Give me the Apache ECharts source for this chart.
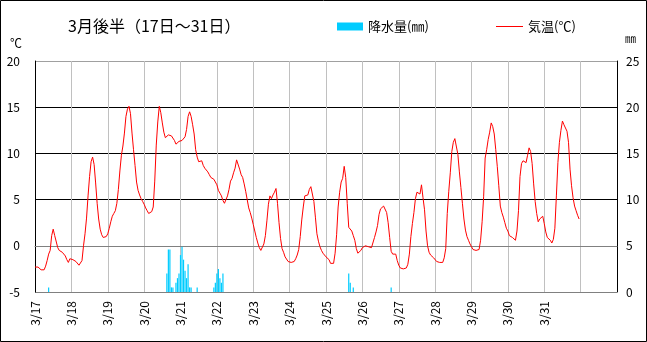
<!DOCTYPE html>
<html><head><meta charset="utf-8">
<script src="https://cdn.jsdelivr.net/npm/echarts@6/dist/echarts.min.js"></script>
<style>html,body{margin:0;padding:0;background:#fff}#c{width:647px;height:342px}</style>
</head><body><div id="c"></div>
<script>
// Tick labels (one per day, start of day)
const dayLabels = ['3/17','3/18','3/19','3/20','3/21','3/22','3/23','3/24','3/25','3/26','3/27','3/28','3/29','3/30','3/31'];
// Hourly temperature (℃), 3/17 01h .. 3/31 24h
const temperature = [
 -2.3,-2.3,-2.3,-2.4,-2.6,-2.7,-2.6,-2.2,-1.6,-0.9,-0.5,1.1,1.8,1.1,1.3,-0.2,-0.5,-0.6,-0.7,-0.8,-1.1,-1.5,-1.8,-1.4,
 -1.4,-1.5,-1.6,-1.7,-1.9,-2.1,-2.1,-1.6,0.0,1.3,3.0,5.4,7.5,9.1,9.6,8.8,6.8,4.6,2.9,1.8,1.2,0.9,0.8,1.0,
 1.3,1.9,2.6,3.2,3.5,3.8,4.6,6.1,8.1,9.8,10.8,12.2,14.0,14.8,15.1,14.3,12.2,10.4,8.7,6.9,6.0,5.5,5.1,4.8,
 4.5,4.1,3.8,3.5,3.4,3.7,4.2,7.0,10.9,13.4,15.1,14.4,13.3,12.3,11.7,11.6,12.0,12.1,11.9,11.7,11.4,11.0,11.1,11.3,
 11.4,11.4,11.6,11.8,12.6,14.0,14.5,14.0,13.1,12.1,10.4,9.6,9.1,8.9,9.2,8.7,8.4,8.3,8.0,7.7,7.4,7.3,7.2,7.1,
 6.6,6.0,5.7,5.4,4.9,4.6,4.8,5.4,6.1,7.0,7.3,7.9,8.4,9.3,9.2,8.3,7.7,7.4,6.7,5.9,5.0,4.1,3.6,3.0,
 2.3,1.6,0.9,0.3,-0.2,-0.5,-0.4,0.2,1.1,2.7,4.5,5.4,5.1,5.5,5.8,6.2,4.6,2.5,0.8,-0.3,-0.7,-1.2,-1.4,-1.7,
 -1.8,-1.8,-1.9,-1.7,-1.4,-1.0,-0.4,1.0,2.8,4.2,5.4,5.2,5.5,6.1,6.4,6.2,4.8,3.1,1.3,0.5,-0.1,-0.5,-0.8,-1.0,
 -1.2,-1.4,-1.5,-1.9,-1.9,-1.9,-0.8,1.2,4.2,5.8,6.9,7.3,8.6,7.4,4.6,2.0,2.0,1.6,1.1,0.6,-0.3,-0.8,-0.8,-0.5,
 -0.2,-0.1,0.0,-0.1,-0.1,-0.3,-0.2,0.0,0.9,1.5,2.2,3.4,4.0,3.9,4.3,4.4,3.6,2.5,0.9,-0.6,-0.9,-0.9,-0.9,-1.6,
 -2.1,-2.4,-2.6,-2.5,-2.6,-2.4,-2.0,-0.9,1.0,2.4,3.6,5.1,5.8,5.8,5.6,6.6,5.2,3.9,1.6,0.0,-0.7,-1.0,-1.1,-1.3,
 -1.5,-1.7,-1.8,-1.8,-1.9,-1.8,-1.3,-0.3,3.5,5.9,7.9,10.2,11.2,11.6,11.4,9.9,8.0,6.3,4.6,2.9,1.7,1.0,0.6,0.2,
 -0.1,-0.4,-0.3,-0.5,-0.6,-0.4,0.6,2.6,5.3,9.5,10.4,11.5,12.3,13.3,12.9,12.1,10.4,8.6,6.5,4.3,3.6,3.1,2.5,1.9,
 1.6,1.1,0.9,0.9,0.7,0.6,1.6,3.8,7.5,8.9,9.2,9.2,9.0,9.8,10.6,10.2,8.9,6.7,4.8,3.5,2.6,2.9,3.0,3.2,
 2.4,1.5,0.9,0.8,0.6,0.3,0.7,1.9,5.4,9.0,11.2,12.5,13.5,13.1,13.2,12.4,11.2,8.3,6.5,5.2,4.3,3.8,3.3,2.9
];
// Precipitation (mm): hours with rain and amounts
const rainHours  = [9, 87, 88, 89, 90, 91, 93, 94, 95, 96, 97, 98, 99, 100, 101, 102, 103, 107, 118, 119, 120, 121, 122, 123, 124, 207, 208, 210, 235];
const rainValues = [0.5, 2.0, 4.6, 4.6, 0.5, 0.5, 1.0, 1.5, 2.0, 4.0, 4.9, 3.5, 2.3, 1.5, 3.0, 0.5, 0.5, 0.5, 0.5, 1.0, 2.0, 2.5, 1.5, 1.0, 2.0, 2.0, 1.0, 0.5, 0.5];
const tempTicks = [-5, 0, 5, 10, 15, 20];
const rainTicks = [0, 5, 10, 15, 20, 25];

const FONT = "'Noto Sans CJK JP', 'Noto Sans', sans-serif";
const tempData = temperature.map((v, i) => [i, v]);
const rainData = rainHours.map((h, i) => [h, rainValues[i]]);

const chart = echarts.init(document.getElementById('c'), null, {renderer: 'canvas'});
chart.setOption({
  animation: false,
  backgroundColor: '#fff',
  textStyle: {fontFamily: FONT},
  title: {
    text: '3月後半（17日～31日）', left: 68, top: 18, padding: 0,
    textStyle: {fontSize: 16, fontWeight: 'normal', color: '#000', fontFamily: FONT}
  },
  legend: [
    {
      left: 337, top: 20, padding: 0, itemWidth: 26, itemHeight: 8,
      textStyle: {fontSize: 13, color: '#000', fontFamily: FONT},
      data: [{name: '降水量(㎜)', icon: 'rect'}]
    },
    {
      left: 496, top: 20, padding: 0, itemWidth: 27, itemHeight: 1,
      textStyle: {fontSize: 13, color: '#000', fontFamily: FONT},
      data: [{name: '気温(℃)', icon: 'rect'}]
    }
  ],
  grid: {left: 35, right: 30, top: 61, bottom: 50, containLabel: false},
  xAxis: {
    type: 'value', min: 0, max: 384, interval: 24,
    axisLine: {show: true, lineStyle: {color: '#808080', width: 1}},
    axisTick: {show: false},
    splitLine: {show: true, lineStyle: {color: '#c0c0c0', width: 1}},
    axisLabel: {
      rotate: 90, margin: 9, fontSize: 12, color: '#000', fontFamily: FONT,
      showMinLabel: true, showMaxLabel: true,
      formatter: v => dayLabels[Math.round(v / 24)] || ''
    }
  },
  yAxis: [
    {
      type: 'value', min: tempTicks[0], max: tempTicks[tempTicks.length - 1], interval: 5, position: 'left',
      axisLine: {show: true, lineStyle: {color: '#000', width: 1}},
      axisTick: {show: false},
      splitLine: {show: true, lineStyle: {color: ['#808080', '#000', '#000', '#000', '#000', '#a0a0a0'], width: 1}},
      axisLabel: {margin: 15, fontSize: 12, color: '#000', fontFamily: FONT}
    },
    {
      type: 'value', min: rainTicks[0], max: rainTicks[rainTicks.length - 1], interval: 5, position: 'right',
      axisLine: {show: true, lineStyle: {color: '#000', width: 1}},
      axisTick: {show: false},
      splitLine: {show: false},
      axisLabel: {margin: 9, fontSize: 12, color: '#000', fontFamily: FONT}
    }
  ],
  graphic: [
    {type: 'rect', silent: true, z: 100, shape: {x: 0.5, y: 0.5, width: 646, height: 341}, style: {fill: 'none', stroke: '#000', lineWidth: 1}},
    {type: 'text', silent: true, left: 10, top: 37, style: {text: '℃', fontSize: 12, fill: '#000', fontFamily: FONT}},
    {type: 'text', silent: true, left: 625, top: 33, style: {text: '㎜', fontSize: 11, fill: '#000', fontFamily: FONT}}
  ],
  series: [
    {
      name: '降水量(㎜)', type: 'bar', yAxisIndex: 1, barWidth: 1.2, data: rainData,
      itemStyle: {color: '#00ccff'}, z: 2
    },
    {
      name: '気温(℃)', type: 'line', yAxisIndex: 0, data: tempData, symbol: 'none',
      lineStyle: {color: '#ff0000', width: 1}, itemStyle: {color: '#ff0000'}, z: 3
    }
  ]
});
</script></body></html>
